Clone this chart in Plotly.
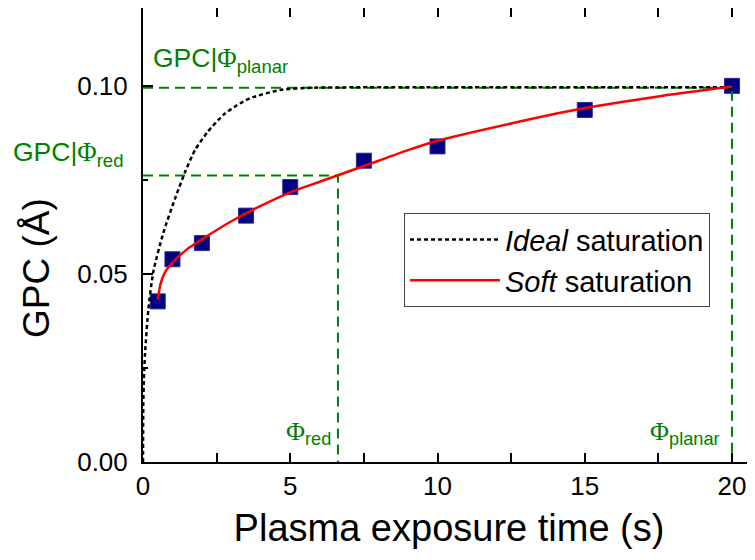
import plotly.graph_objects as go

# measured data (squares)
t_data = [0.5, 1, 2, 3.5, 5, 7.5, 10, 15, 20]
gpc_data = [0.0427, 0.0539, 0.0582, 0.0655, 0.0731, 0.0801, 0.0839, 0.0936, 0.1000]

# ideal saturation curve
t_ideal = [0, 0.01, 0.03, 0.07, 0.18, 0.35, 0.69, 1.1, 1.45, 1.77, 2.2, 2.73, 3.2, 3.63, 4.65, 5.77, 7, 10, 15, 20]
gpc_ideal = [0, 0.015, 0.022, 0.029, 0.0404, 0.0506, 0.0609, 0.0703, 0.0775, 0.0830, 0.0878,
             0.0923, 0.0949, 0.0967, 0.0989, 0.0995, 0.0996, 0.0996, 0.0996, 0.0996]

# soft saturation curve
t_soft = [0.5, 0.6, 0.75, 1.0, 1.5, 2.0, 3.0, 4.0, 5.0, 6.0, 7.0, 8.0, 9.0, 10, 12.5, 15, 17.5, 20]
gpc_soft = [0.0432, 0.0475, 0.0505, 0.0530, 0.0566, 0.0592, 0.0640, 0.0681, 0.0717, 0.0745, 0.0773,
            0.0801, 0.0829, 0.0854, 0.0900, 0.0941, 0.0972, 0.0998]

# reference levels
t_red = 6.62
gpc_red = 0.0762
t_planar = 20
gpc_planar = 0.0995

x_ticks = [0, 5, 10, 15, 20]
y_ticks = [0.00, 0.05, 0.10]
y_tick_text = ["0.00", "0.05", "0.10"]

GREEN = "#008000"
FONT = "Liberation Sans, Arial, sans-serif"
PHI = '<span style="font-family:Liberation Serif">Φ</span>'

# page body has an 8px default margin: plot area spans page px 143..755 (x), 8..462 (y)
fig = go.Figure()

fig.add_trace(go.Scatter(x=t_data, y=gpc_data, mode="markers",
                         marker=dict(symbol="square", size=15, color="#000080",
                                     line=dict(width=1, color="#2a2a9a")),
                         showlegend=False))

fig.add_trace(go.Scatter(x=[0, t_planar, t_planar], y=[gpc_planar, gpc_planar, 0], mode="lines",
                         line=dict(color=GREEN, width=2, dash="10px,6px"), showlegend=False))
fig.add_trace(go.Scatter(x=[0, t_red, t_red], y=[gpc_red, gpc_red, 0], mode="lines",
                         line=dict(color=GREEN, width=2, dash="10px,6px"), showlegend=False))

fig.add_trace(go.Scatter(x=t_ideal, y=gpc_ideal, mode="lines", name="<i>Ideal</i> saturation",
                         line=dict(color="black", width=2.5, dash="4px,3px", shape="spline", smoothing=0.6)))
fig.add_trace(go.Scatter(x=t_soft, y=gpc_soft, mode="lines", name="<i>Soft</i> saturation",
                         line=dict(color="#ff0000", width=2.5, shape="spline", smoothing=0.6)))

# right-side ticks (axis line itself is beyond the visible area)
fig.add_trace(go.Scatter(x=[None], y=[None], yaxis="y2", showlegend=False))

fig.update_layout(
    width=747, height=552,
    margin=dict(l=135, r=0, t=0, b=98, autoexpand=False),
    paper_bgcolor="white", plot_bgcolor="white",
    font=dict(family=FONT, color="black"),
    xaxis=dict(range=[0, 20.78], tickvals=x_ticks, ticks="inside", ticklen=9, tickwidth=2,
               tickcolor="black", showline=True, linewidth=2, linecolor="black", mirror="allticks",
               showgrid=False, zeroline=False, tickfont=dict(size=26), ticklabelstandoff=0,
               automargin=False,
               minor=dict(dtick=2.5, ticks="inside", ticklen=5, tickwidth=2, tickcolor="black", showgrid=False),
               title=dict(text="Plasma exposure time (s)", font=dict(size=38), standoff=14)),
    yaxis=dict(range=[0, 0.1207], tickvals=y_ticks, ticktext=y_tick_text, ticks="inside", ticklen=10,
               tickwidth=2, tickcolor="black", showline=True, linewidth=2, linecolor="black",
               mirror=False, showgrid=False, zeroline=False, tickfont=dict(size=26), ticklabelstandoff=8,
               automargin=False,
               minor=dict(dtick=0.025, ticks="inside", ticklen=5, tickwidth=2, tickcolor="black", showgrid=False)),
    yaxis2=dict(overlaying="y", side="right", range=[0, 0.1207], tickvals=[0.05, 0.10], ticks="inside",
                ticklen=3, tickwidth=2, tickcolor="black", showticklabels=False, showline=False,
                showgrid=False, zeroline=False, automargin=False),
    legend=dict(x=0.4265, y=0.548, xanchor="left", yanchor="top", bgcolor="white",
                bordercolor="#444", borderwidth=1, font=dict(size=29), itemwidth=90,
                tracegroupgap=4),
    showlegend=True,
)

annos = [
    dict(text="GPC (Å)", x=36, y=268, size=37, color="black", angle=-90),
    dict(text="GPC|" + PHI + "<sub>planar</sub>", x=220, y=60, size=26.5, color=GREEN, angle=0),
    dict(text="GPC|" + PHI + "<sub>red</sub>", x=68, y=154, size=26.5, color=GREEN, angle=0),
    dict(text=PHI + "<sub>red</sub>", x=308, y=433, size=26, color=GREEN, angle=0),
    dict(text=PHI + "<sub>planar</sub>", x=685, y=433, size=26, color=GREEN, angle=0),
]
for a in annos:
    fig.add_annotation(text=a["text"], xref="paper", yref="paper",
                       x=(a["x"] - 143) / 612, y=(462 - a["y"]) / 454,
                       xanchor="center", yanchor="middle", showarrow=False, textangle=a["angle"],
                       font=dict(size=a["size"], color=a["color"], family=FONT))

fig.write_html("out.html")
